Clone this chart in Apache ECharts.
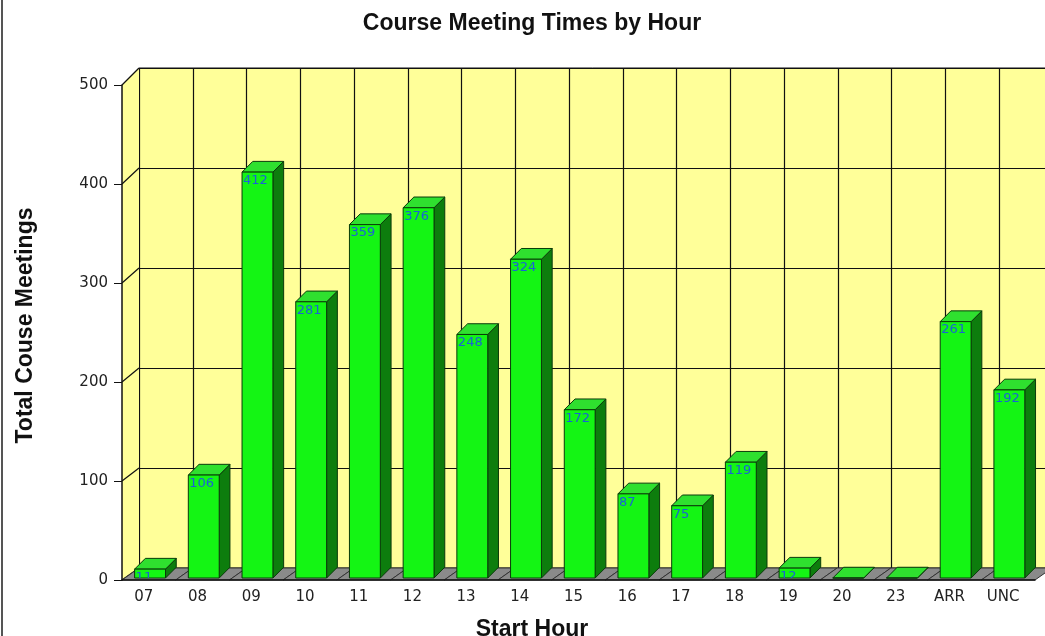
<!DOCTYPE html>
<html>
<head>
<meta charset="utf-8">
<script src="https://cdn.jsdelivr.net/npm/echarts@6/dist/echarts.min.js"></script>
<style>
  body { margin: 0; background: #fff; }
  #chart { width: 1045px; height: 636px; }
  #frame { position: absolute; left: 1px; top: 0; width: 2px; height: 636px; background: #555; }
</style>
</head>
<body>
<div id="chart"></div>
<div id="frame"></div>
<script>
// categories = start hour
var hours = ['07', '08', '09', '10', '11', '12', '13', '14', '15', '16', '17', '18', '19', '20', '23', 'ARR', 'UNC'];
// total course meetings per hour
var meetings = [11, 106, 412, 281, 359, 376, 248, 324, 172, 87, 75, 119, 12, 1, 1, 261, 192];
var yTicks = [0, 100, 200, 300, 400, 500];

var FONT = '"Liberation Sans", Arial, sans-serif';
var TICK_FONT = '"DejaVu Sans", sans-serif';
var DEPTH_X = 17;   // floor depth
var DEPTH_Y = 12;
var chart = echarts.init(document.getElementById('chart'));

// back wall pixel for a value (grid 0)
function backPoint(cat, v) {
  return chart.convertToPixel({ xAxisIndex: 0, yAxisIndex: 0 }, [cat, v]);
}

var option = {
  animation: false,
  title: [
    {
      text: 'Course Meeting Times by Hour',
      left: 527, top: 7, textAlign: 'center',
      textStyle: { fontFamily: FONT, fontSize: 23, fontWeight: 'bold', color: '#111' }
    },
    {
      text: 'Start Hour',
      left: 527, top: 613, textAlign: 'center',
      textStyle: { fontFamily: FONT, fontSize: 23, fontWeight: 'bold', color: '#111' }
    }
  ],
  grid: [
    // back wall
    { left: 139, right: -8, top: 68, bottom: 68, containLabel: false, outerBoundsMode: 'none',
      show: true, backgroundColor: '#ffff99', borderColor: '#111', borderWidth: 1 },
    // front plane
    { left: 122, right: 10, top: 85, bottom: 56, containLabel: false, outerBoundsMode: 'none' }
  ],
  xAxis: [
    {
      gridIndex: 0, type: 'category', data: hours,
      axisLine: { show: false }, axisTick: { show: false }, axisLabel: { show: false },
      splitLine: { show: true, interval: 0, lineStyle: { color: '#111', width: 1.2 } }
    },
    {
      gridIndex: 1, type: 'category', data: hours, z: 5,
      axisLine: { lineStyle: { color: '#111', width: 1.5 } },
      axisTick: { show: false },
      axisLabel: { interval: 0, margin: 10, padding: [0, 10, 0, 0], fontFamily: TICK_FONT, fontSize: 15, color: '#222' },
      splitLine: { show: false }
    }
  ],
  yAxis: [
    {
      gridIndex: 0, type: 'value', min: 0, max: 500, interval: 100,
      axisLine: { show: false }, axisTick: { show: false }, axisLabel: { show: false },
      splitLine: { show: true, lineStyle: { color: '#111', width: 1.2 } }
    },
    {
      gridIndex: 1, type: 'value', min: 0, max: 500, interval: 100, z: 5,
      name: 'Total Couse Meetings', nameLocation: 'middle', nameGap: 85, nameRotate: 90,
      nameTextStyle: { fontFamily: FONT, fontSize: 23, fontWeight: 'bold', color: '#111', padding: [0, 0, 0, 14] },
      axisLine: { show: true, lineStyle: { color: '#111', width: 1.5 } },
      axisTick: { show: true, length: 8, lineStyle: { color: '#111' } },
      axisLabel: { margin: 14, fontFamily: TICK_FONT, fontSize: 15, color: '#222' },
      splitLine: { show: false }
    }
  ],
  series: [
    {
      // left side wall with slanted tick lines
      type: 'custom', xAxisIndex: 1, yAxisIndex: 1, z: 1, silent: true,
      data: yTicks.map(function (v) { return [0, v]; }),
      renderItem: function (params, api) {
        var v = api.value(1);
        var half = api.size([1, 0])[0] / 2;
        var f = api.coord([0, v]);
        var b = backPoint(0, v);
        var bHalf = (backPoint(1, v)[0] - b[0]) / 2;
        var fx = f[0] - half, bx = b[0] - bHalf;
        var children = [];
        if (v === 0) {
          var fTop = api.coord([0, 500]);
          var bTop = backPoint(0, 500);
          children.push({
            type: 'polygon', z2: 0,
            shape: { points: [[fx, fTop[1]], [bx, bTop[1]], [bx, b[1]], [fx, f[1]]] },
            style: { fill: '#ffff99', stroke: null }
          });
        }
        children.push({
          type: 'line', z2: 1,
          shape: { x1: fx, y1: f[1], x2: bx, y2: b[1] },
          style: { stroke: '#111', lineWidth: 1.2 }
        });
        return { type: 'group', children: children };
      }
    },
    {
      // grey floor, one slab per category
      type: 'custom', xAxisIndex: 1, yAxisIndex: 1, z: 2, silent: true,
      data: hours.map(function (h, i) { return [i, 0]; }),
      renderItem: function (params, api) {
        var band = api.size([1, 0])[0];
        var c = api.coord([api.value(0), 0]);
        var x0 = c[0] - band / 2, x1 = c[0] + band / 2, y = c[1];
        return {
          type: 'polygon',
          shape: { points: [[x0, y], [x1, y], [x1 + DEPTH_X, y - DEPTH_Y], [x0 + DEPTH_X, y - DEPTH_Y]] },
          style: { fill: '#8a8a8a', stroke: '#333', lineWidth: 1 }
        };
      }
    },
    {
      // 3D bars
      type: 'custom', xAxisIndex: 1, yAxisIndex: 1, z: 3,
      data: meetings.map(function (v, i) { return [i, v]; }),
      renderItem: function (params, api) {
        var idx = api.value(0), v = api.value(1);
        var band = api.size([1, 0])[0];
        var top = api.coord([idx, v]);
        var base = api.coord([idx, 0]);
        var x0 = top[0] - band / 2 + band * 0.235;
        var w = band * 0.575;
        var d = band * 0.2;
        var yb = base[1] - 2;
        var yt = Math.min(top[1], yb);
        var stroke = { stroke: '#0a3a0a', lineWidth: 1 };
        var children = [
          {
            type: 'polygon',
            shape: { points: [[x0 + w, yt], [x0 + w + d, yt - d], [x0 + w + d, yb - d], [x0 + w, yb]] },
            style: Object.assign({ fill: '#0d7d0d' }, stroke)
          },
          {
            type: 'polygon',
            shape: { points: [[x0, yt], [x0 + d, yt - d], [x0 + w + d, yt - d], [x0 + w, yt]] },
            style: Object.assign({ fill: '#2fe02f' }, stroke)
          },
          {
            type: 'rect',
            shape: { x: x0, y: yt, width: w, height: yb - yt },
            style: Object.assign({ fill: '#14f514' }, stroke)
          }
        ];
        if (v >= 5) {
          children.push({
            type: 'text',
            clipPath: { type: 'rect', shape: { x: x0, y: yt, width: w, height: yb - yt } },
            style: {
              x: x0 + 1, y: yt + 2, text: String(v),
              align: 'left', verticalAlign: 'top',
              fill: '#1a62d6', font: '13px ' + TICK_FONT
            }
          });
        }
        return { type: 'group', children: children };
      }
    }
  ]
};

chart.setOption(option);
window.addEventListener('resize', function () { chart.resize(); });
</script>
</body>
</html>
